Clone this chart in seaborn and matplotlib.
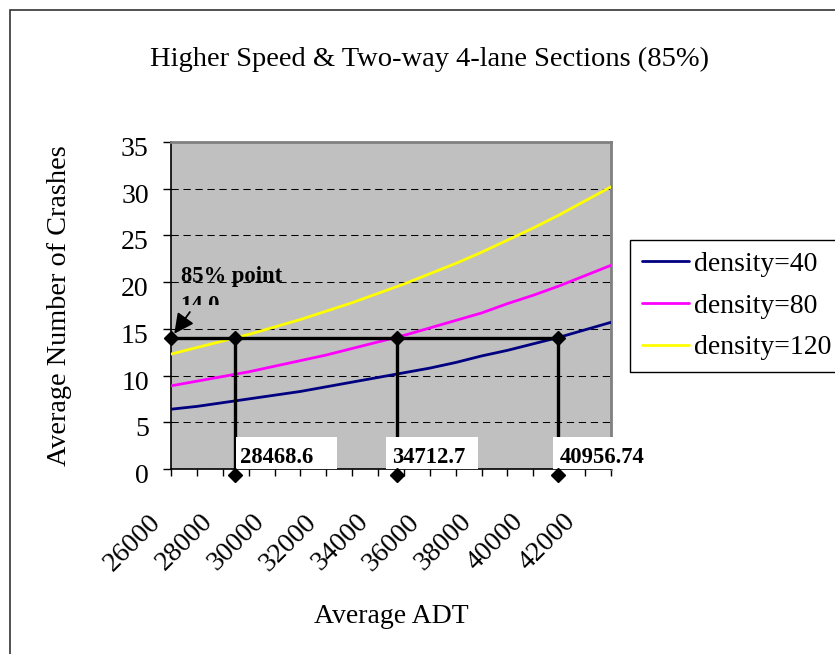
import matplotlib
matplotlib.use("Agg")
import matplotlib.pyplot as plt
import matplotlib.transforms as mtransforms
from matplotlib.patches import Rectangle
from matplotlib.ticker import MultipleLocator, FuncFormatter
import numpy as np
import pandas as pd
import seaborn as sns

# Average ADT (vehicles/day) at which each curve is evaluated
adt = [26000, 27000, 28000, 29000, 30000, 31000, 32000, 33000, 34000,
       35000, 36000, 37000, 38000, 39000, 40000, 41000, 42000, 43000]

# Average number of crashes per curve
density_40 = [6.4, 6.7, 7.1, 7.5, 7.9, 8.3, 8.8, 9.3, 9.8,
              10.3, 10.8, 11.4, 12.1, 12.7, 13.4, 14.1, 14.9, 15.7]
density_80 = [8.9, 9.4, 9.9, 10.4, 11.0, 11.6, 12.2, 12.9, 13.6,
              14.3, 15.1, 15.9, 16.7, 17.7, 18.6, 19.6, 20.7, 21.8]
density_120 = [12.3, 13.0, 13.7, 14.4, 15.2, 16.0, 16.9, 17.8, 18.8,
               19.8, 20.9, 22.0, 23.2, 24.5, 25.8, 27.2, 28.7, 30.2]

series_names = ["density=40", "density=80", "density=120"]
series_colors = ["#000080", "#FF00FF", "#FFFF00"]

# 85% crash level and the ADT at which each curve reaches it
point_level = 14.0
point_start_adt = 26000
point_adt = [28468.6, 34712.7, 40956.74]
point_labels = ["28468.6", "34712.7", "40956.74"]
drop_foot = -0.6

title = "Higher Speed & Two-way 4-lane Sections (85%)"

sns.set_style("white")
plt.rcParams["font.family"] = ["Liberation Serif", "DejaVu Serif"]
for key in ["text.color", "axes.labelcolor", "xtick.color", "ytick.color"]:
    plt.rcParams[key] = "black"

W, H = 835, 654
fig = plt.figure(figsize=(W / 100, H / 100), dpi=100)
ax = fig.add_axes([171 / W, 1 - 469 / H, 440 / W, 327 / H])
ax.set_facecolor("#C0C0C0")

df = pd.DataFrame({
    "ADT": adt * 3,
    "crashes": density_40 + density_80 + density_120,
    "series": [n for n in series_names for _ in adt],
})
sns.lineplot(data=df, x="ADT", y="crashes", hue="series",
             hue_order=series_names,
             palette=dict(zip(series_names, series_colors)),
             linewidth=2.0, ax=ax, zorder=3)

ax.set_xlim(26000, 43000)
ax.set_ylim(0, 35)
ax.yaxis.set_major_locator(MultipleLocator(5))
ax.xaxis.set_major_locator(MultipleLocator(1000))
ax.xaxis.set_major_formatter(FuncFormatter(
    lambda v, p: f"{v:.0f}" if int(round(v)) % 2000 == 0 else ""))

ax.grid(axis="y", color="black", linestyle=(0, (7, 4.5)), linewidth=0.75)
ax.grid(axis="x", visible=False)
ax.set_axisbelow(True)

for s in ["top", "right"]:
    ax.spines[s].set_color("#808080")
    ax.spines[s].set_linewidth(2)
for s in ["left", "bottom"]:
    ax.spines[s].set_color("black")
    ax.spines[s].set_linewidth(1.2)

ax.tick_params(axis="x", direction="out", length=5, width=1, color="black",
               labelsize=20, pad=24, bottom=True)
ax.tick_params(axis="y", direction="out", length=6, width=1, color="black",
               labelsize=20, pad=10, left=True)
plt.setp(ax.get_xticklabels(), rotation=45, ha="right", va="top",
         rotation_mode="anchor")

# 85% reference lines
ref_kw = dict(color="black", linewidth=2.4, solid_capstyle="butt")
ax.plot([point_start_adt, point_adt[-1]], [point_level, point_level],
        zorder=5, **ref_kw)
for x in point_adt:
    ax.plot([x, x], [point_level, drop_foot], zorder=5, **ref_kw)
ax.plot([point_start_adt] + point_adt, [point_level] * 4, "D", ms=7.5,
        color="black", clip_on=False, zorder=8)
ax.plot(point_adt, [drop_foot] * len(point_adt), "D", ms=7.5,
        color="black", clip_on=False, zorder=8)

# value labels in white boxes standing on the x axis (offsets in pixels)
box_left = [1, -10.5, -5]
box_width = [101, 92, 95]
text_dx = [5, -4.8, 1.3]
for x, lab, bl, bw, tdx in zip(point_adt, point_labels, box_left, box_width,
                               text_dx):
    anchor = mtransforms.ScaledTranslation(x, 0, ax.transData)
    ax.add_patch(Rectangle((bl, 0), bw, 32, facecolor="white",
                           edgecolor="none", transform=anchor, zorder=6.5,
                           clip_on=False))
    ax.text(tdx, 5.7, lab, transform=anchor, ha="left", va="baseline",
            fontsize=16.3, fontweight="bold", zorder=7)

# "85% point" callout
t = ax.text(26375, 21.7, f"85% point\n{point_level:.1f}", ha="left", va="top",
            fontsize=16.3, fontweight="bold", zorder=6, linespacing=1.5)
clip_rect = Rectangle((0, 17.55), 1, 30,
                      transform=mtransforms.blended_transform_factory(
                          ax.transAxes, ax.transData))
t.set_clip_path(clip_rect)
t.set_clip_on(True)
ax.annotate("", xy=(point_start_adt, point_level), xytext=(26730, 16.8),
            arrowprops=dict(arrowstyle="-|>,head_length=0.6,head_width=0.3",
                            color="black", lw=1.3, shrinkA=0, shrinkB=4,
                            mutation_scale=20), zorder=6)

ax.set_xlabel("Average ADT", fontsize=20)
ax.xaxis.set_label_coords(0.5, (469 - 604) / 327)
ax.set_ylabel("Average Number of Crashes", fontsize=20.3)
ax.yaxis.set_label_coords((72 - 171) / 440, 0.5)

fig.text(430 / W, 1 - 65.5 / H, title, ha="center", va="baseline",
         fontsize=20.5)

sns.move_legend(ax, "upper left", bbox_to_anchor=(630 / W, 1 - 240 / H),
                bbox_transform=fig.transFigure, title=None, frameon=True,
                fancybox=False, edgecolor="black", framealpha=1,
                borderpad=0.42, handlelength=1.7, handletextpad=0.2,
                labelspacing=0.58, fontsize=20, borderaxespad=0)
leg = ax.get_legend()
leg.get_frame().set_linewidth(1)
for ln in leg.get_lines():
    ln.set_linewidth(2.0)

# chart frame
fig.patches.append(Rectangle((10 / W, -0.1), 1.2, 1.1 - 10 / H, fill=False,
                             edgecolor="#333333", linewidth=1.2,
                             transform=fig.transFigure, figure=fig))

# nudge tick labels to their usual spot next to the ticks
fig.canvas.draw()
shift_x = mtransforms.ScaledTranslation(-22.5 / 100, 0, fig.dpi_scale_trans)
for tick in ax.xaxis.get_major_ticks():
    tick.label1.set_transform(tick.label1.get_transform() + shift_x)
shift_y = mtransforms.ScaledTranslation(0, -4.5 / 100, fig.dpi_scale_trans)
for tick in ax.yaxis.get_major_ticks():
    tick.label1.set_transform(tick.label1.get_transform() + shift_y)

fig.savefig("out.png", dpi=100)
